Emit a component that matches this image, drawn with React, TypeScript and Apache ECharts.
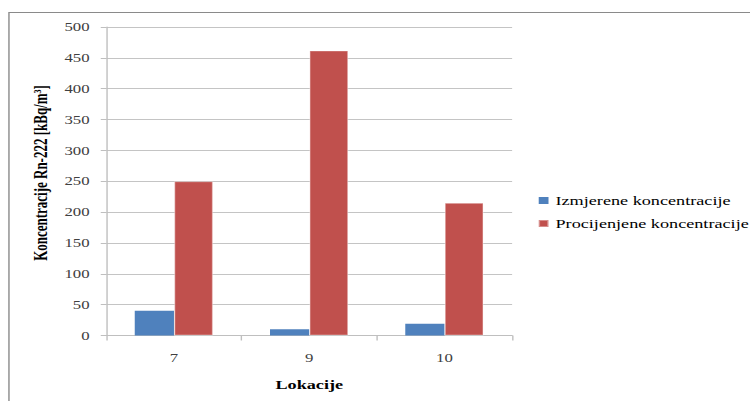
import React, { useEffect, useRef } from "react";
import * as echarts from "echarts";

const categories = ["7", "9", "10"];
const measured = [40, 10, 19];
const estimated = [250, 462, 215];
const seriesNames = ["Izmjerene koncentracije", "Procijenjene koncentracije"];
const yTitle = "{a|Koncentracije Rn-222 [kBq/m}{s|3}{a|]}";
const xTitle = "Lokacije";

const FONT = "'Liberation Serif', 'Times New Roman', serif";
const STRETCH = 750 / 536;

export default function App() {
  const ref = useRef<HTMLDivElement>(null);
  useEffect(() => {
    if (!ref.current) return;
    const chart = echarts.init(ref.current, null, { renderer: "svg" });
    chart.setOption({
      animation: false,
      backgroundColor: "#ffffff",
      grid: { left: 76, top: 27, width: 290, height: 308.5, containLabel: false },
      legend: {
        orient: "vertical",
        left: 379,
        top: 189,
        itemWidth: 7,
        itemHeight: 7,
        itemGap: 10,
        icon: "rect",
        data: seriesNames,
        textStyle: { fontFamily: FONT, fontSize: 13, color: "#000" },
      },
      xAxis: {
        type: "category",
        data: categories,
        name: xTitle,
        nameLocation: "middle",
        nameGap: 42,
        nameTextStyle: { fontFamily: FONT, fontSize: 13, fontWeight: "bold", color: "#000" },
        axisLine: { show: true, lineStyle: { color: "#bfbfbf", width: 1 } },
        axisTick: { show: true, alignWithLabel: false, length: 5, lineStyle: { color: "#bfbfbf" } },
        axisLabel: { fontFamily: FONT, fontSize: 12, color: "#404040", margin: 16 },
        splitLine: { show: false },
      },
      yAxis: {
        type: "value",
        min: 0,
        max: 500,
        interval: 50,
        axisLine: { show: true, lineStyle: { color: "#bfbfbf", width: 1 } },
        axisTick: { show: true, length: 4, lineStyle: { color: "#bfbfbf" } },
        axisLabel: { fontFamily: FONT, fontSize: 12, color: "#404040", margin: 12 },
        splitLine: { show: true, lineStyle: { color: "#c4c4c4", width: 1 } },
      },
      series: [
        {
          name: seriesNames[0],
          type: "bar",
          data: measured,
          barGap: "0%",
          barCategoryGap: "42%",
          itemStyle: { color: "#4F81BD" },
        },
        {
          name: seriesNames[1],
          type: "bar",
          data: estimated,
          barGap: "0%",
          barCategoryGap: "42%",
          itemStyle: { color: "#C0504D", borderColor: "rgba(255,255,255,0.35)", borderWidth: 1 },
        },
      ],
      graphic: [
        {
          type: "rect",
          shape: { x: 6.4, y: 12.5, width: 700, height: 500 },
          style: { fill: "none", stroke: "#8a8a8a", lineWidth: 1 },
          silent: true,
        },
        {
          type: "text",
          x: 28.9,
          y: 173,
          rotation: Math.PI / 2,
          style: {
            text: yTitle,
            align: "center",
            verticalAlign: "middle",
            fill: "#000",
            rich: {
              a: { fontFamily: FONT, fontSize: 13, fontWeight: "bold", fill: "#000" },
              s: { fontFamily: FONT, fontSize: 8, fontWeight: "bold", fill: "#000", verticalAlign: "top" },
            },
          },
        },
      ],
    });
    return () => chart.dispose();
  }, []);
  return (
    <div
      style={{
        position: "absolute",
        left: 0,
        top: 0,
        width: 536,
        height: 401,
        overflow: "hidden",
        transform: `scaleX(${STRETCH})`,
        transformOrigin: "0 0",
      }}
    >
      <div ref={ref} style={{ width: 536, height: 401 }} />
    </div>
  );
}
